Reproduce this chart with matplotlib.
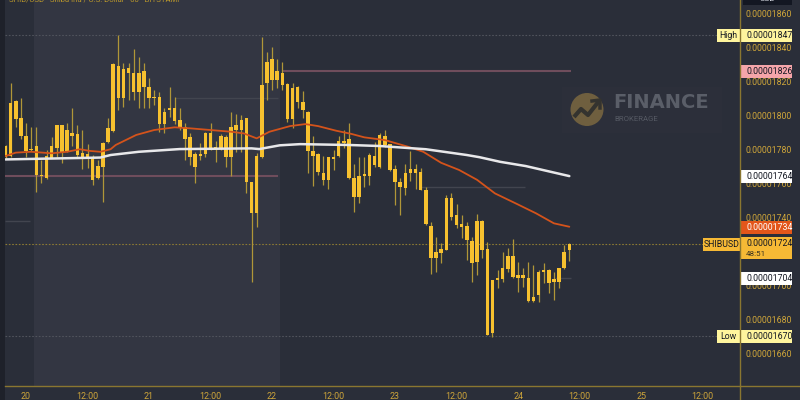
import matplotlib
matplotlib.use('Agg')
import matplotlib.pyplot as plt
from matplotlib.patches import Rectangle, Circle
from matplotlib.lines import Line2D
import numpy as np

plt.rcParams['font.family'] = ['Roboto', 'DejaVu Sans']

SCALE = 1e-8  # prices are stored in units of 1e-8 USD

# ---------------- data (hourly SHIB/USD candles) ----------------
opens = [1781.9, 1776, 1808.4, 1798.2, 1788, 1779.5, 1782, 1764.8, 1763, 1775,
         1780.5, 1794, 1779, 1789.7, 1789, 1778, 1777, 1775.6, 1763, 1769.7,
         1784.4, 1791, 1829, 1810, 1825, 1825, 1813.8, 1826, 1816.8, 1810,
         1811, 1794.8, 1803, 1804, 1797, 1792.9, 1787, 1769.7, 1777, 1777,
         1789.7, 1781, 1780, 1787, 1775.2, 1791.3, 1791.3, 1798.2, 1760.9, 1742.3,
         1775.6, 1819.1, 1832.9, 1820.7, 1825, 1818.2, 1797.6, 1816.8, 1808, 1802,
         1779, 1777, 1765.8, 1761.9, 1775.2, 1776, 1785, 1785.8, 1762.9, 1752,
         1764.2, 1764.2, 1776, 1769.7, 1787.8, 1782.9, 1768.2, 1760.9, 1757, 1765.8,
         1768.2, 1766.8, 1756, 1735, 1715.8, 1718.7, 1720.7, 1751.1, 1741.3, 1736,
         1735, 1726.2, 1713.8, 1738, 1721.1, 1671.7, 1703.1, 1703.5, 1709.3, 1717.2,
         1706, 1704, 1704, 1690.9, 1694.2, 1708, 1709, 1702.1, 1702.1, 1709.9,
         1720.7]
highs = [1782.5, 1819, 1809, 1810.3, 1795.2, 1793, 1793, 1773.6, 1779.5, 1787.4,
         1794.5, 1794.5, 1795.2, 1804, 1794, 1791.3, 1783, 1776.6, 1773.6, 1784.5,
         1798.2, 1831, 1847.2, 1831, 1831, 1838.7, 1834, 1830.5, 1821.7, 1814.8,
         1813.8, 1804, 1816.8, 1811, 1804, 1795.2, 1789.3, 1778.5, 1783.8, 1790,
         1795.2, 1785, 1789, 1788.4, 1802, 1800.7, 1800, 1798.5, 1761, 1778,
         1846.2, 1837.4, 1840, 1832.9, 1831.5, 1819.1, 1819.1, 1817.2, 1814.4, 1802.5,
         1787.8, 1778, 1776, 1775.6, 1779.5, 1787.8, 1791.3, 1795.2, 1771.3, 1775.6,
         1775.6, 1778, 1784.4, 1789.3, 1791.3, 1783.2, 1770.7, 1762.9, 1771.3, 1779.1,
         1771.3, 1768.7, 1758, 1737.4, 1728.5, 1724.6, 1753, 1754, 1747.8, 1741.3,
         1737.4, 1728.5, 1741.9, 1738.3, 1725.6, 1703.3, 1709, 1719.7, 1721.7, 1727,
         1713.8, 1709.9, 1713.8, 1711.9, 1709, 1712.9, 1709.3, 1708, 1710.2, 1723.6,
         1725]
lows = [1775, 1775.6, 1793, 1786, 1775.2, 1779, 1755, 1760.3, 1762.3, 1774.6,
        1775.6, 1772, 1778.5, 1782, 1775.6, 1768.2, 1768.7, 1759, 1762.3, 1749,
        1783.5, 1790, 1803, 1805, 1809, 1809, 1804, 1804, 1804, 1806,
        1790.3, 1789.7, 1799, 1794.8, 1791.3, 1773.6, 1770.7, 1760.3, 1773.6, 1775.6,
        1779.5, 1772.7, 1779.5, 1769.7, 1764.2, 1778.5, 1778.5, 1754, 1702, 1734.4,
        1775, 1809, 1814.8, 1815.8, 1814.8, 1796.2, 1792.3, 1804, 1798.2, 1766.2,
        1758.4, 1764.8, 1759, 1756.4, 1767.8, 1775.2, 1780.5, 1762.5, 1743.3, 1748.5,
        1758, 1759, 1769.7, 1768.7, 1781.5, 1767.4, 1747.2, 1741.3, 1753, 1761.5,
        1756.4, 1755.8, 1735.4, 1706.4, 1708, 1713.3, 1720.5, 1738.3, 1733.4, 1727.6,
        1714.8, 1702.1, 1706, 1715.8, 1670.5, 1669.7, 1698.2, 1702.1, 1708, 1704.4,
        1696.2, 1699.1, 1690.3, 1690.3, 1690.3, 1701.1, 1695.2, 1691.3, 1698.2, 1709.5,
        1714.4]
closes = [1775.6, 1807, 1798, 1787.8, 1779, 1780, 1764.8, 1764.2, 1776, 1782,
          1794, 1778.5, 1791.3, 1787.8, 1776.6, 1775.6, 1775.6, 1762, 1770, 1783.8,
          1792.3, 1830, 1810, 1827, 1828, 1813.8, 1825, 1816.8, 1810, 1811,
          1794.8, 1802, 1804, 1796.8, 1792.3, 1785.8, 1775.6, 1777, 1776, 1789.7,
          1780.5, 1780.5, 1787.8, 1775.6, 1792.9, 1794.2, 1797.2, 1760.9, 1742.3, 1776,
          1817.8, 1831.5, 1820.7, 1826, 1817.8, 1797.6, 1815.8, 1808, 1803, 1779,
          1776, 1766.8, 1761.9, 1775.2, 1774, 1785, 1783.8, 1762.9, 1752, 1764.2,
          1765.4, 1776.6, 1770.7, 1788.4, 1782.5, 1767.8, 1760.9, 1757.6, 1765.8, 1768.2,
          1765.8, 1756, 1735.8, 1715.8, 1719.7, 1721.1, 1751.1, 1739.9, 1735.4, 1734.4,
          1726.6, 1712.9, 1738, 1720.7, 1670.7, 1703.1, 1704, 1709.9, 1717.2, 1704.6,
          1704, 1706, 1690.9, 1692.9, 1708, 1709, 1701.1, 1703.5, 1709.9, 1719.7,
          1724]

# moving averages (candle index, value)
ema_idx = [0, 2, 5, 9, 12, 14.5, 16.5, 18.5, 20.5, 21.5, 25.5, 29, 33, 36, 40, 44,
           46.5, 49, 51.5, 55.5, 58.5, 61, 64.5, 67.5, 70, 74, 78.5, 81.5, 85,
           88.5, 92, 95.5, 99.5, 103.5, 107, 110]
ema_val = [1776, 1778, 1778.5, 1777.6, 1778.5, 1780, 1779, 1778.5, 1780, 1782.5,
           1788.4, 1791.3, 1792.9, 1792.3, 1791.3, 1790.3, 1789.3, 1786.4, 1790.3,
           1793.6, 1794.8, 1793.6, 1790.9, 1789, 1787, 1785.4, 1781.5, 1778.5, 1772,
           1767.8, 1762, 1754, 1748.2, 1742.3, 1736.4, 1734.4]
sma_idx = [0, 18.5, 20.5, 26, 34, 48, 49.5, 53.5, 57.5, 67, 73, 82, 90, 92.5,
           96.5, 101.5, 110]
sma_val = [1774, 1775.1, 1776.6, 1778.5, 1780.1, 1780.5, 1780.1, 1782.3, 1783,
           1782.5, 1781.9, 1780, 1776.6, 1775.3, 1772.6, 1770.1, 1764.2]

# the 0.00001720 tick is fully hidden behind the last-price label in the original
price_ticks = [1860, 1840, 1820, 1800, 1780, 1760, 1740, 1700, 1680, 1660]
x_tick_pos = [4, 16, 28, 40, 52, 64, 76, 88, 100, 112, 124, 136]
x_tick_labels = ['20', '12:00', '21', '12:00', '22', '12:00', '23', '12:00',
                 '24', '12:00', '25', '12:00']

high_val, low_val, last_val = 1847, 1670, 1724
ema_last, sma_last = 1734, 1764
resist_val, support_val, extra_val = 1826, 1764.2, 1704
countdown = '48:51'

# ---------------- figure ----------------
W, H = 800, 400
BG = '#2a2e39'
fig = plt.figure(figsize=(8, 4), dpi=100)
fig.patch.set_facecolor(BG)

AX_L, AX_R, AX_B = 5, 740, 386
ax = fig.add_axes([AX_L / W, (H - AX_B) / H, (AX_R - AX_L) / W, AX_B / H])
ax.set_facecolor(BG)
Y0, Y1 = 1640.7, 1867.8
ax.set_ylim(Y0, Y1)
ax.set_xlim(-0.1, 143.3)
for s in ax.spines.values():
    s.set_visible(False)

# session shading
ax.axvspan(5.55, 53.55, color='#333642', zorder=0, lw=0)

# left dark strip
fig.add_artist(Rectangle((0, 0), AX_L / W, 1, transform=fig.transFigure,
                         facecolor='#1e212a', edgecolor='none', zorder=0))

# horizontal levels
ax.hlines(support_val, -0.1, 53.2, color='#6f4d5c', lw=1.5, zorder=2)
ax.hlines(resist_val, 54.2, 110.3, color='#6f4d5c', lw=1.5, zorder=2)
ax.hlines(1810, 33, 53.2, color='#42454f', lw=1, zorder=1)
ax.hlines(1738, -0.1, 4.8, color='#42454f', lw=1, zorder=1)
ax.hlines(1758, 81, 101.4, color='#42454f', lw=1, zorder=1)
ax.hlines(extra_val, 107.2, 110.3, color='#42454f', lw=1, zorder=1)
ax.axhline(high_val, color='#51545d', lw=0.8, ls=(0, (1.5, 1.5)), zorder=1)
ax.axhline(low_val, color='#51545d', lw=0.8, ls=(0, (1.5, 1.5)), zorder=1)
ax.axhline(last_val, color='#8c7a33', lw=0.8, ls=(0, (1.5, 1.5)), zorder=1)

# candles
o = np.array(opens); c = np.array(closes)
hi = np.array(highs); lo = np.array(lows)
idx = np.arange(len(o))
ax.vlines(idx, lo, hi, color='#b09638', lw=0.9, zorder=3)
bottoms = np.minimum(o, c)
heights = np.maximum(np.abs(c - o), 0.7)
ax.bar(idx, heights, width=0.68, bottom=bottoms, color='#f7c12f', lw=0, zorder=4)

# moving averages
ax.plot(ema_idx, ema_val, color='#d4531b', lw=1.3, zorder=5, solid_capstyle='round')
ax.plot(sma_idx, sma_val, color='#e8e8ea', lw=1.8, zorder=5, solid_capstyle='round')

# ticks
TICK_C = '#cfa63a'
ax.yaxis.tick_right()
ax.set_yticks(price_ticks)
ax.set_yticklabels([f'{v * SCALE:.8f}' for v in price_ticks])
ax.tick_params(axis='y', length=0, pad=4.3, labelsize=6.3, labelcolor=TICK_C)
ax.set_xticks(x_tick_pos)
ax.set_xticklabels(x_tick_labels)
ax.tick_params(axis='x', length=0, pad=4.2, labelsize=6.4, labelcolor=TICK_C)

# gold axis lines
fig.add_artist(Line2D([AX_R / W, AX_R / W], [0, 1], transform=fig.transFigure,
                      color='#8a7630', lw=1, zorder=20))
fig.add_artist(Line2D([AX_L / W, 1], [(H - AX_B) / H] * 2, transform=fig.transFigure,
                      color='#8a7630', lw=1, zorder=20))

# price labels on the axis
trans = ax.get_yaxis_transform()
per_px = (Y1 - Y0) / AX_B


def fx(px):
    return (px - AX_L) / (AX_R - AX_L)


def box(val, text, face, tcolor, x0=740, x1=792, up=6.5, down=6.5, ha='left',
        tx=746, ty=0.0, size=6.3):
    ax.add_patch(Rectangle((fx(x0), val - down * per_px), fx(x1) - fx(x0),
                           (up + down) * per_px, transform=trans, facecolor=face,
                           edgecolor='none', clip_on=False, zorder=10))
    if ha == 'center':
        tx = (x0 + x1) / 2
    ax.text(fx(tx), val + ty * per_px, text, transform=trans, ha=ha, va='center',
            fontsize=size, color=tcolor, clip_on=False, zorder=11)


DARK = '#131722'
box(high_val, f'{high_val * SCALE:.8f}', '#fff59d', DARK)
box(high_val, 'High', '#fff59d', DARK, x0=717, x1=740, ha='center')
box(resist_val, f'{resist_val * SCALE:.8f}', '#f5a5aa', DARK)
box(sma_last, f'{sma_last * SCALE:.8f}', '#ffffff', DARK)
box(ema_last, f'{ema_last * SCALE:.8f}', '#e3561a', '#ffffff')
box(last_val, f'{last_val * SCALE:.8f}', '#f6b935', DARK, up=7.5, down=15, ty=1.0)
ax.text(fx(746), last_val - 9.8 * per_px, countdown, transform=trans, ha='left',
        va='center', fontsize=5.8, color='#3a3320', clip_on=False, zorder=11)
box(last_val, 'SHIBUSD', '#f6b935', DARK, x0=703, x1=740, ha='center')
box(extra_val, f'{extra_val * SCALE:.8f}', '#ffffff', DARK)
box(low_val, f'{low_val * SCALE:.8f}', '#fff59d', DARK)
box(low_val, 'Low', '#fff59d', DARK, x0=717, x1=740, ha='center')

# overlay in pixel coordinates for decorations
ov = fig.add_axes([0, 0, 1, 1], zorder=5)
ov.set_xlim(0, W); ov.set_ylim(H, 0)
ov.axis('off'); ov.patch.set_alpha(0)

# USD box at top right (cut by the edge as in the original)
ov.add_patch(Rectangle((743, -10), 49, 15, facecolor=DARK, edgecolor='none'))
ov.text(767, -1, 'USD', ha='center', va='center', fontsize=6, color='#d1d4dc')

# title (cut by the top edge as in the original)
ov.text(9, -0.5, 'SHIB/USD · Shiba Inu / U.S. Dollar · 60 · BITSTAMP', ha='left',
        va='center', fontsize=5.6, color='#b8962c')

# watermark
ov.add_patch(Rectangle((562, 87), 160, 46, facecolor='#2c2f3a', edgecolor='none'))
ov.add_patch(Circle((587, 109.5), 16.5, facecolor='#6f5f3f', edgecolor='none'))
ov.plot([574, 581, 588, 599], [117, 109, 115, 101], color='#34332f', lw=3,
        solid_capstyle='butt')
ov.plot([592, 600, 600], [101, 100, 108], color='#34332f', lw=2.5)
ov.text(613, 103, 'FINANCE', ha='left', va='center', fontsize=14, fontweight='bold',
        family='DejaVu Sans', color='#5a5e68')
ov.text(614, 119, 'BROKERAGE', ha='left', va='center', fontsize=5.6, color='#565a64')

fig.savefig('out.png', dpi=100, facecolor=BG)
